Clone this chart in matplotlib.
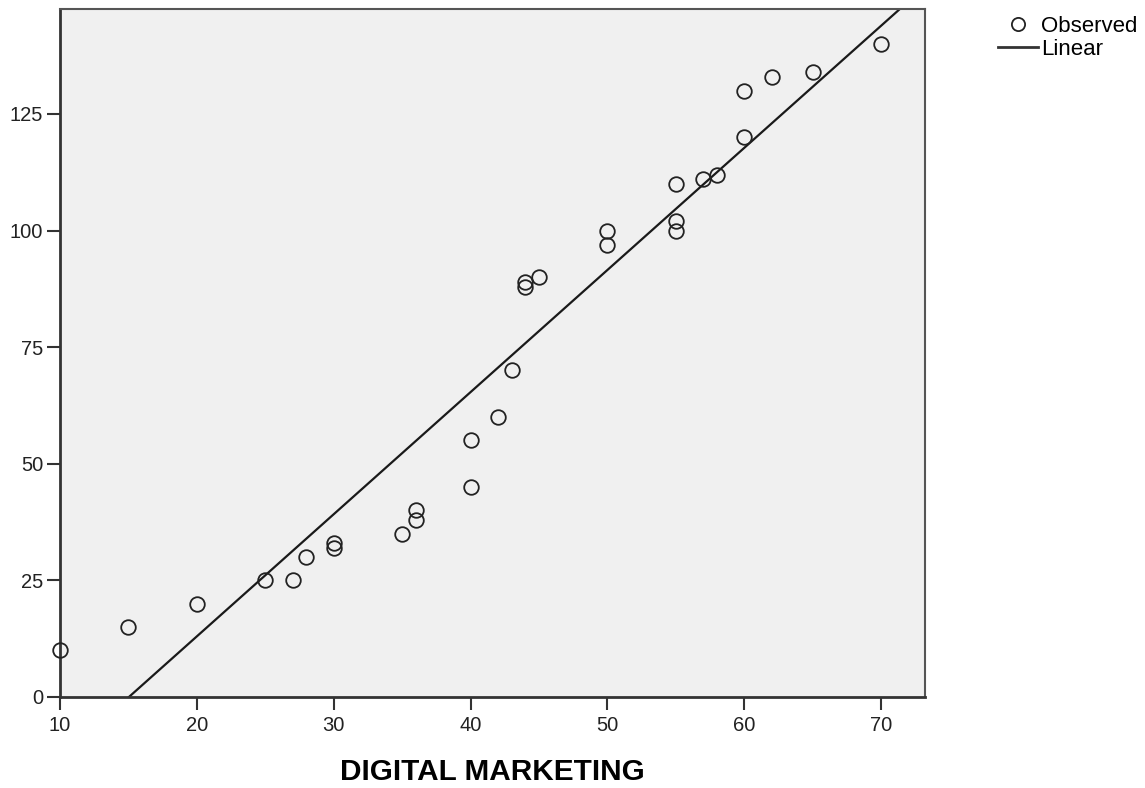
import numpy as np
import matplotlib
matplotlib.use('Agg')
import matplotlib.pyplot as plt
from matplotlib.lines import Line2D

plt.rcParams['font.family'] = ['Liberation Sans', 'DejaVu Sans']

# observed points
digital_marketing = [10, 15, 20, 25, 27, 28, 30, 30, 35, 36, 36, 40, 40, 42, 43,
                     44, 44, 45, 50, 50, 55, 55, 55, 57, 58, 60, 60, 62, 65, 70]
observed = [10, 15, 20, 25, 25, 30, 32, 33, 35, 38, 40, 45, 55, 60, 70,
            88, 89, 90, 97, 100, 100, 102, 110, 111, 112, 120, 130, 133, 134, 140]
yticks = [0, 25, 50, 75, 100, 125]
xticks = [10, 20, 30, 40, 50, 60, 70]

x = np.array(digital_marketing, float)
y = np.array(observed, float)
slope, icpt = np.polyfit(x, y, 1)

fig = plt.figure(figsize=(11.45, 7.88), dpi=100)
ax = fig.add_axes([60/1145, 1-697/788, 865/1145, 688/788])
ax.set_facecolor('#f0f0f0')

xmin, xmax = 10, 73.2
ax.set_xlim(xmin, xmax)
ax.set_ylim(0, 147.5)

xx = np.array([xmin, xmax])
ax.plot(xx, slope*xx + icpt, color='#1a1a1a', lw=1.6, zorder=2)
ax.plot(x, y, 'o', ms=10.5, mfc='none', mec='#222222', mew=1.3, zorder=3, clip_on=False)

ax.set_xticks(xticks)
ax.set_yticks(yticks)
ax.tick_params(direction='out', length=9.5, width=1.5, color='#333333',
               labelsize=14.5, pad=2.5, labelcolor='#222222')
ax.tick_params(axis='x', pad=4)
for s in ['left', 'bottom']:
    ax.spines[s].set_linewidth(2)
    ax.spines[s].set_color('#333333')
for s in ['top', 'right']:
    ax.spines[s].set_linewidth(1.5)
    ax.spines[s].set_color('#555555')

ax.set_xlabel('DIGITAL MARKETING', fontsize=21.4, fontweight='bold', labelpad=17)

handles = [Line2D([], [], ls='none', marker='o', ms=9.5, mfc='none', mec='#222222', mew=1.3),
           Line2D([], [], color='#333333', lw=2)]
fig.legend(handles, ['Observed', 'Linear'], loc='upper left',
           bbox_to_anchor=(998/1145, 1-16/788), frameon=False, fontsize=16,
           handlelength=1.8, handletextpad=0.14, labelspacing=0.08,
           borderpad=0, borderaxespad=0)

fig.savefig('out.png', dpi=100)
